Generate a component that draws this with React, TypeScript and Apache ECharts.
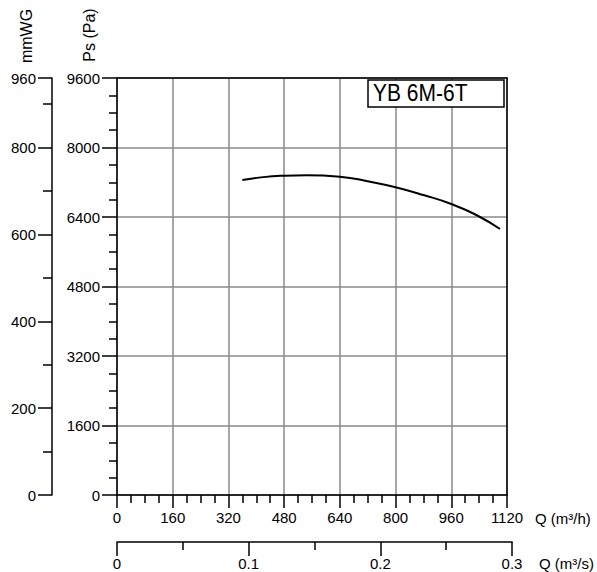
import React, { useEffect, useRef } from "react";
import * as echarts from "echarts";

const flowM3h = [360, 420, 480, 545, 640, 727, 800, 880, 960, 1032, 1100];
const pressurePa = [7250, 7318, 7350, 7360, 7328, 7212, 7085, 6906, 6700, 6446, 6123];
const titleText = "YB 6M-6T";

const FONT = "'Liberation Sans', Arial, Helvetica, sans-serif";

export default function App() {
  const ref = useRef<HTMLDivElement>(null);
  useEffect(() => {
    if (!ref.current) return;
    const chart = echarts.init(ref.current, undefined, { renderer: "svg" });
    const black = "#000";
    const gridGray = "#8a8a8a";
    const fmt = (v: number) => String(Math.round(v * 1000) / 1000);
    const labelStyle = { color: black, fontSize: 15, fontFamily: FONT, formatter: fmt };
    const axisLine = { show: true, onZero: false, lineStyle: { color: black, width: 1.5 } };
    const data = flowM3h.map((q, i) => [q, pressurePa[i]]);
    chart.setOption({
      animation: false,
      backgroundColor: "#fff",
      grid: [
        { left: 117, top: 78, right: 90, bottom: 77 },
        { left: 117, right: 85, top: 500, bottom: 30 },
      ],
      xAxis: [
        {
          type: "value",
          gridIndex: 0,
          position: "bottom",
          min: 0,
          max: 1120,
          interval: 160,
          axisLine,
          axisTick: { show: true, length: 13, lineStyle: { color: black, width: 1.5 } },
          minorTick: { show: true, splitNumber: 4, length: 8, lineStyle: { color: black, width: 1.5 } },
          axisLabel: { ...labelStyle, margin: 15, showMaxLabel: true, showMinLabel: true },
          splitLine: { show: true, lineStyle: { color: gridGray, width: 1.5 } },
        },
        {
          type: "value",
          gridIndex: 0,
          position: "top",
          min: 0,
          max: 1120,
          axisLine,
          axisTick: { show: false },
          axisLabel: { show: false },
          splitLine: { show: false },
        },
        {
          type: "value",
          gridIndex: 1,
          position: "bottom",
          min: 0,
          max: 0.3,
          interval: 0.1,
          axisLine,
          axisTick: { show: true, length: 14, lineStyle: { color: black, width: 1.5 } },
          minorTick: { show: true, splitNumber: 2, length: 8, lineStyle: { color: black, width: 1.5 } },
          axisLabel: { ...labelStyle, margin: 14, showMaxLabel: true, showMinLabel: true },
          splitLine: { show: false },
        },
      ],
      yAxis: [
        {
          type: "value",
          gridIndex: 0,
          position: "left",
          min: 0,
          max: 9600,
          interval: 1600,
          axisLine,
          axisTick: { show: true, length: 15, lineStyle: { color: black, width: 1.5 } },
          minorTick: { show: true, splitNumber: 4, length: 8, lineStyle: { color: black, width: 1.5 } },
          axisLabel: { ...labelStyle, margin: 17, showMaxLabel: true, showMinLabel: true },
          splitLine: { show: true, lineStyle: { color: gridGray, width: 1.5 } },
        },
        {
          type: "value",
          gridIndex: 0,
          position: "left",
          offset: 65,
          min: 0,
          max: 960,
          interval: 200,
          axisLine,
          axisTick: { show: true, length: 14, lineStyle: { color: black, width: 1.5 } },
          minorTick: { show: true, splitNumber: 2, length: 9, lineStyle: { color: black, width: 1.5 } },
          axisLabel: { ...labelStyle, margin: 16, showMaxLabel: true, showMinLabel: true },
          splitLine: { show: false },
        },
        {
          type: "value",
          gridIndex: 0,
          position: "right",
          min: 0,
          max: 9600,
          axisLine,
          axisTick: { show: false },
          axisLabel: { show: false },
          splitLine: { show: false },
        },
        {
          type: "value",
          gridIndex: 1,
          show: false,
          min: 0,
          max: 1,
        },
      ],
      series: [
        {
          type: "line",
          xAxisIndex: 0,
          yAxisIndex: 0,
          data,
          smooth: true,
          showSymbol: false,
          symbol: "none",
          lineStyle: { color: black, width: 2 },
          silent: true,
        },
      ],
      graphic: [
        {
          type: "text",
          x: 26,
          y: 36,
          rotation: Math.PI / 2,
          style: {
            text: "mmWG",
            fill: black,
            font: `16px ${FONT}`,
            align: "center",
            verticalAlign: "middle",
          },
        },
        {
          type: "text",
          x: 89,
          y: 35,
          rotation: Math.PI / 2,
          style: {
            text: "Ps (Pa)",
            fill: black,
            font: `16px ${FONT}`,
            align: "center",
            verticalAlign: "middle",
          },
        },
        {
          type: "text",
          x: 535,
          y: 518,
          style: {
            text: "Q (m³/h)",
            fill: black,
            font: `15px ${FONT}`,
            align: "left",
            verticalAlign: "middle",
          },
        },
        {
          type: "text",
          x: 539,
          y: 563,
          style: {
            text: "Q (m³/s)",
            fill: black,
            font: `15px ${FONT}`,
            align: "left",
            verticalAlign: "middle",
          },
        },
        {
          type: "rect",
          shape: { x: 368, y: 80, width: 136, height: 27 },
          style: { fill: "#fff", stroke: black, lineWidth: 1.5 },
          z: 100,
        },
        {
          type: "text",
          x: 373,
          y: 93.5,
          scaleY: 1.12,
          z: 101,
          style: {
            text: titleText,
            fill: black,
            font: `21px ${FONT}`,
            align: "left",
            verticalAlign: "middle",
          },
        },
      ],
    });
    return () => chart.dispose();
  }, []);
  return (
    <div
      ref={ref}
      style={{ position: "fixed", left: 0, top: 0, width: 597, height: 572 }}
    />
  );
}
